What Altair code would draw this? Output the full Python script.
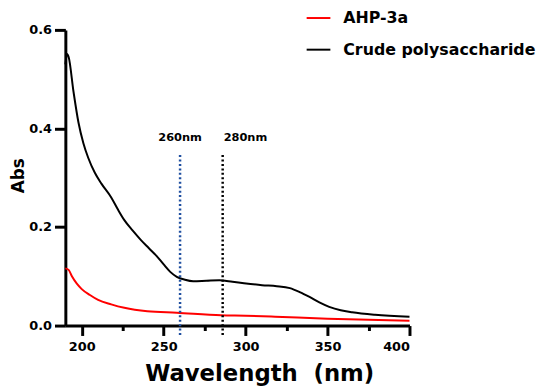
import altair as alt
import pandas as pd

# Crude polysaccharide (black) absorbance readings
crude_wl = [190, 191, 192, 195, 198, 201, 204, 208, 212, 218, 222, 226, 231, 236, 241, 246, 250, 254,
            258, 263, 268, 276, 284, 292, 299, 310, 319, 327, 333, 339, 345, 351, 358, 365, 379, 400]
crude_abs = [0.53, 0.551, 0.545, 0.474, 0.412, 0.37, 0.34, 0.31, 0.288, 0.26, 0.236, 0.214, 0.193,
             0.174, 0.157, 0.14, 0.124, 0.109, 0.099, 0.093, 0.090, 0.091, 0.092, 0.089, 0.086, 0.082,
             0.080, 0.076, 0.068, 0.058, 0.047, 0.038, 0.031, 0.027, 0.022, 0.018]

# AHP-3a (red) absorbance readings
ahp_wl = [190, 192, 194, 197, 200, 205, 210, 218, 226, 240, 258, 285, 300, 318, 350, 375, 400]
ahp_abs = [0.116, 0.113, 0.100, 0.085, 0.074, 0.062, 0.052, 0.043, 0.036, 0.029, 0.026, 0.021,
           0.020, 0.018, 0.014, 0.012, 0.010]

series_names = ["AHP-3a", "Crude polysaccharide"]
series_colors = ["#ff0000", "#000000"]

marker_wl = [260, 286]
marker_labels = ["260nm", "280nm"]
marker_colors = ["#1f4fa0", "#000000"]
marker_top = 0.346
marker_bottom = -0.02
label_y = 0.38

x_ticks = [200, 225, 250, 275, 300, 325, 350, 375, 400]
y_ticks = [0, 0.2, 0.4, 0.6]

rows = []
for w, a in zip(ahp_wl, ahp_abs):
    rows.append({"wl": w, "abs": a, "series": series_names[0]})
for w, a in zip(crude_wl, crude_abs):
    rows.append({"wl": w, "abs": a, "series": series_names[1]})
df = pd.DataFrame(rows)

mk = pd.DataFrame({"wl": marker_wl, "label": marker_labels, "color": marker_colors,
                   "top": [marker_top] * 2, "bottom": [marker_bottom] * 2, "ly": [label_y] * 2})

FONT = "DejaVu Sans"

xscale = alt.Scale(domain=[190, 400], nice=False, zero=False)
yscale = alt.Scale(domain=[0, 0.6], nice=False)

lines = alt.Chart(df).mark_line(strokeWidth=2, interpolate="monotone", clip=False).encode(
    x=alt.X("wl:Q", scale=xscale,
            axis=alt.Axis(values=x_ticks, title="Wavelength\u00a0\u00a0(nm)",
                          labelExpr="datum.value % 50 === 0 ? datum.label : ''",
                          tickSize={"condition": {"test": "datum.value % 50 === 0", "value": 10}, "value": 5},
                          labelPadding=5, labelFontSize=13, labelFontWeight="bold",
                          titleFontSize=23, titleFontWeight="bold",
                          titleX=196, titleY=56, titleBaseline="alphabetic", titleAnchor="middle")),
    y=alt.Y("abs:Q", scale=yscale,
            axis=alt.Axis(values=y_ticks, format=".1f", title="Abs", tickSize=11,
                          labelPadding=3, labelFontSize=13, labelFontWeight="bold",
                          titleFontSize=17, titleFontWeight="bold", titleAngle=270,
                          titleX=-47, titleY=147, titleBaseline="middle", titleAlign="center")),
    color=alt.Color("series:N", scale=alt.Scale(domain=series_names, range=series_colors),
                    legend=alt.Legend(title=None, orient="none", legendX=243, legendY=-25,
                                      symbolType="stroke", symbolSize=576, symbolStrokeWidth=2,
                                      labelFontSize=16, labelFontWeight="bold", labelFont=FONT,
                                      labelLimit=400, labelOffset=12, rowPadding=11, padding=0,
                                      direction="vertical")),
)

rules = alt.Chart(mk).mark_rule(strokeWidth=2.5, strokeDash=[2, 2.5], clip=False).encode(
    x="wl:Q",
    y="top:Q",
    y2="bottom:Q",
    color=alt.Color("color:N", scale=None),
)

labels_left = alt.Chart(mk).transform_filter("datum.label == '260nm'").mark_text(
    font=FONT, fontSize=11.5, fontWeight="bold", align="center", baseline="middle", color="black"
).encode(x="wl:Q", y="ly:Q", text="label:N")

labels_right = alt.Chart(mk).transform_filter("datum.label == '280nm'").mark_text(
    font=FONT, fontSize=11.5, fontWeight="bold", align="left", baseline="middle", dx=1, color="black"
).encode(x="wl:Q", y="ly:Q", text="label:N")

chart = alt.layer(lines, rules, labels_left, labels_right).properties(
    width=348, height=299,
    autosize=alt.AutoSizeParams(type="none"),
    padding={"left": 58, "top": 20, "right": 134, "bottom": 62},
).configure_view(stroke=None).configure_axis(
    grid=False, domainColor="black", domainWidth=3, tickColor="black", tickWidth=3,
    labelColor="black", titleColor="black", labelFont=FONT, titleFont=FONT,
)

chart.save("out.html", embed_options={"renderer": "svg", "actions": False})
